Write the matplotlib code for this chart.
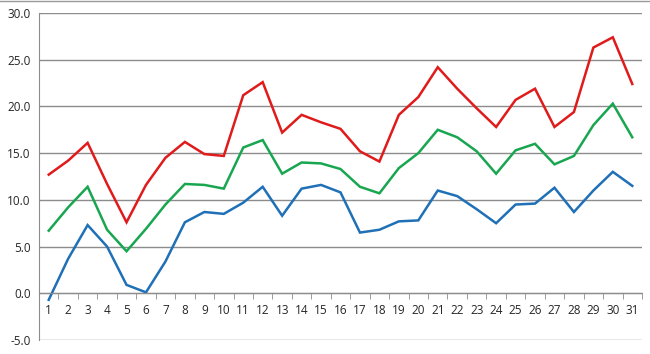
import matplotlib.pyplot as plt
from matplotlib.lines import Line2D
from matplotlib.ticker import MultipleLocator, FixedLocator

days = list(range(1, 32))
red_vals = [12.7, 14.2, 16.1, 11.7, 7.6, 11.6, 14.5, 16.2, 14.9, 14.7,
            21.2, 22.6, 17.2, 19.1, 18.3, 17.6, 15.2, 14.1, 19.1, 21.0,
            24.2, 21.9, 19.8, 17.8, 20.7, 21.9, 17.8, 19.4, 26.3, 27.4, 22.4]
green_vals = [6.7, 9.2, 11.4, 6.8, 4.5, 6.9, 9.5, 11.7, 11.6, 11.2,
              15.6, 16.4, 12.8, 14.0, 13.9, 13.3, 11.4, 10.7, 13.4, 15.0,
              17.5, 16.7, 15.2, 12.8, 15.3, 16.0, 13.8, 14.7, 18.0, 20.3, 16.7]
blue_vals = [-0.7, 3.7, 7.3, 5.0, 0.9, 0.1, 3.4, 7.6, 8.7, 8.5,
             9.7, 11.4, 8.3, 11.2, 11.6, 10.8, 6.5, 6.8, 7.7, 7.8,
             11.0, 10.4, 9.0, 7.5, 9.5, 9.6, 11.3, 8.7, 11.0, 13.0, 11.5]

grid_c = "#8c8c8c"
text_c = "#262626"

plt.rcParams["font.family"] = ["Open Sans", "DejaVu Sans"]

fig = plt.figure(figsize=(6.5, 3.54), dpi=100)
ax = fig.add_axes([39 / 650, 1 - 340 / 354, 603 / 650, 327 / 354])

ax.plot(days, red_vals, color="#e01b1b", lw=1.8, solid_joinstyle="miter")
ax.plot(days, green_vals, color="#19a650", lw=1.8, solid_joinstyle="miter")
ax.plot(days, blue_vals, color="#1f70b6", lw=1.8, solid_joinstyle="miter")

ax.set_xlim(0.5, 31.5)
ax.set_ylim(-5, 30)

ax.yaxis.set_major_locator(MultipleLocator(5))
ax.set_yticklabels([f"{v:.1f}" for v in ax.get_yticks()])
ax.grid(axis="y", color=grid_c, lw=1)
ax.set_axisbelow(True)

ax.set_xticks(days)
ax.set_xticklabels([str(d) for d in days])
ax.xaxis.set_minor_locator(FixedLocator([d + 0.5 for d in range(0, 32)]))

for s in ["top", "right"]:
    ax.spines[s].set_visible(False)
ax.spines["left"].set_color(grid_c)
ax.spines["bottom"].set_position(("data", 0))
ax.spines["bottom"].set_color(grid_c)

ax.tick_params(axis="x", which="major", length=0, pad=8, labelsize=8.5, colors=text_c)
ax.tick_params(axis="x", which="minor", length=4, color=grid_c, direction="out")
ax.tick_params(axis="y", length=0, pad=6, labelsize=8.5, colors=text_c)

fig.add_artist(Line2D([0, 1], [0.998, 0.998], transform=fig.transFigure, color="#9a9a9a", lw=1))

fig.savefig("out.png", dpi=100)
